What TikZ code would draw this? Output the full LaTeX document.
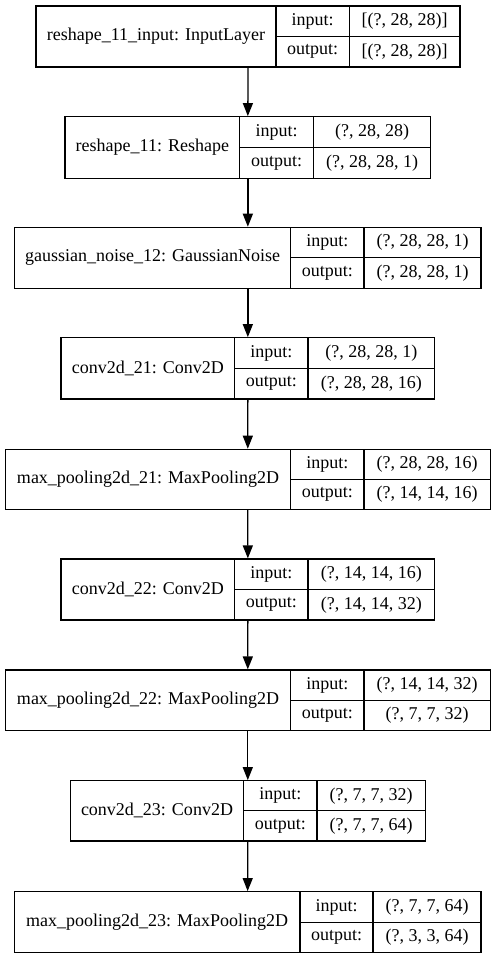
\documentclass[tikz,border=0pt]{standalone}
\usepackage{fontspec}
\setmainfont{Liberation Serif}
\usetikzlibrary{arrows.meta,fit}
\tikzset{
  lbox/.style={draw=black, line width=1.2bp, inner sep=0pt},
  lline/.style={draw=black, line width=1.2bp},
  txt/.style={inner sep=0pt, font=\fontsize{18bp}{20bp}\selectfont},
  flow/.style={draw=black, line width=1.3bp, -{Triangle[length=13bp,width=10bp]}}
}
\newcommand\lyr[8]{%
  \def\xa{#2}\def\xb{#3}\def\xc{#4}\def\xd{#5}\def\ya{#6}\def\yb{#7}\def\lid{#1}%
  \node[lbox, fit={(#2,#6)(#5,#7)}] (#1) {};
  \draw[lline] (#3,#6) -- (#3,#7) (#4,#6) -- (#4,#7) (#3,{(#6+#7)/2}) -- (#5,{(#6+#7)/2});
  \node[txt] (#1-name) at ({(#2+#3)/2},{(#6+#7)/2}) {#8};
}
\newcommand\lio[2]{%
  \node[txt] (\lid-il) at ({(\xb+\xc)/2},{(3*\ya+\yb)/4}) {input:};
  \node[txt] (\lid-ol) at ({(\xb+\xc)/2},{(\ya+3*\yb)/4}) {output:};
  \node[txt] (\lid-iv) at ({(\xc+\xd)/2},{(3*\ya+\yb)/4}) {#1};
  \node[txt] (\lid-ov) at ({(\xc+\xd)/2},{(\ya+3*\yb)/4}) {#2};
}
\begin{document}
\begin{tikzpicture}[x=1bp,y=-1bp]
\path[use as bounding box, fill=white] (0,0) rectangle (496,959);
\lyr{L1}{36}{276}{349.3}{460}{6}{67}{reshape\_11\_input: InputLayer}
\lio{[(?, 28, 28)]}{[(?, 28, 28)]}
\lyr{L2}{65}{239.7}{313.3}{430.7}{116.7}{178.3}{reshape\_11: Reshape}
\lio{(?, 28, 28)}{(?, 28, 28, 1)}
\lyr{L3}{14.7}{290.7}{364}{481}{227.3}{288.3}{gaussian\_noise\_12: GaussianNoise}
\lio{(?, 28, 28, 1)}{(?, 28, 28, 1)}
\lyr{L4}{61}{234.7}{308}{434.7}{337.7}{399}{conv2d\_21: Conv2D}
\lio{(?, 28, 28, 1)}{(?, 28, 28, 16)}
\lyr{L5}{5.3}{290.7}{364}{490.3}{449.3}{509.3}{max\_pooling2d\_21: MaxPooling2D}
\lio{(?, 28, 28, 16)}{(?, 14, 14, 16)}
\lyr{L6}{61}{234.7}{308}{434.7}{559}{620}{conv2d\_22: Conv2D}
\lio{(?, 14, 14, 16)}{(?, 14, 14, 32)}
\lyr{L7}{5.3}{290.7}{364}{490.3}{670}{730.7}{max\_pooling2d\_22: MaxPooling2D}
\lio{(?, 14, 14, 32)}{(?, 7, 7, 32)}
\lyr{L8}{70.3}{243.7}{317}{425.3}{780.7}{841}{conv2d\_23: Conv2D}
\lio{(?, 7, 7, 32)}{(?, 7, 7, 64)}
\lyr{L9}{14.3}{300}{373}{481}{891.7}{952.7}{max\_pooling2d\_23: MaxPooling2D}
\lio{(?, 7, 7, 64)}{(?, 3, 3, 64)}
\foreach \a/\b in {L1/L2,L2/L3,L3/L4,L4/L5,L5/L6,L6/L7,L7/L8,L8/L9}
  \draw[flow] (\a.south) -- (\b.north);
\end{tikzpicture}
\end{document}
